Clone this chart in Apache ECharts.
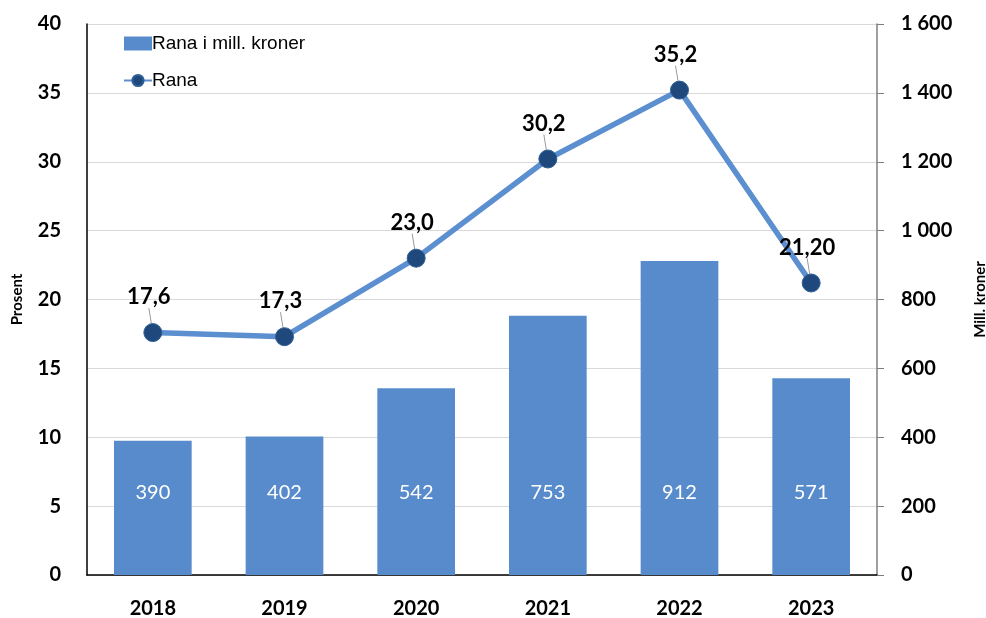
<!DOCTYPE html>
<html>
<head>
    <meta charset="UTF-8">
    <title>Rana</title>
    <style>
        html, body { margin: 0; padding: 0; background: #fff; }
        #main { width: 986px; height: 618px; }
    </style>
</head>
<body>
    <div id="main"></div>
    <script src="https://cdn.jsdelivr.net/npm/echarts@6/dist/echarts.min.js"></script>
    <script type="text/javascript">
        // data
        let years = ['2018', '2019', '2020', '2021', '2022', '2023'];
        let millKroner = [390, 402, 542, 753, 912, 571];
        let prosent = [17.6, 17.3, 23.0, 30.2, 35.2, 21.2];
        let prosentLabels = ['17,6', '17,3', '23,0', '30,2', '35,2', '21,20'];
        let leftTicks = [0, 5, 10, 15, 20, 25, 30, 35, 40];
        let rightTicks = [0, 200, 400, 600, 800, 1000, 1200, 1400, 1600];

        let myChart = echarts.init(document.getElementById('main'));
        let axisFont = { fontFamily: 'Lato', fontWeight: 'bold', fontSize: 20, color: '#000' };

        myChart.setOption({
            animation: false,
            grid: { left: 87, right: 109, top: 24, bottom: 43, outerBoundsMode: 'none', containLabel: false },
            legend: {
                orient: 'vertical',
                left: 118,
                top: 29,
                itemGap: 18,
                itemWidth: 28,
                itemHeight: 14,
                textStyle: { fontFamily: 'Liberation Sans', fontSize: 19, color: '#000', padding: [0, 0, 0, -5] },
                data: [
                    { name: 'Rana i mill. kroner', icon: 'rect' },
                    { name: 'Rana' }
                ]
            },
            xAxis: {
                type: 'category',
                data: years,
                axisLine: { lineStyle: { color: '#000', width: 1.5 } },
                axisTick: { show: false },
                axisLabel: Object.assign({ margin: 24 }, axisFont)
            },
            yAxis: [{
                type: 'value',
                name: 'Prosent',
                nameLocation: 'middle',
                nameRotate: 90,
                nameGap: 62,
                nameTextStyle: { fontFamily: 'Lato', fontWeight: 'bold', fontSize: 15, color: '#000' },
                min: leftTicks[0],
                max: leftTicks[leftTicks.length - 1],
                interval: 5,
                axisLine: { show: true, lineStyle: { color: '#000', width: 1.5 } },
                axisTick: { show: false },
                axisLabel: Object.assign({ margin: 26 }, axisFont),
                splitLine: { lineStyle: { color: '#d9d9d9', width: 1 } }
            }, {
                type: 'value',
                name: 'Mill. kroner',
                nameLocation: 'middle',
                nameRotate: 90,
                nameGap: 96,
                nameTextStyle: { fontFamily: 'Lato', fontWeight: 'bold', fontSize: 15, color: '#000' },
                min: rightTicks[0],
                max: rightTicks[rightTicks.length - 1],
                interval: 200,
                axisLine: { show: true, lineStyle: { color: '#7f7f7f', width: 1.5 } },
                axisTick: { show: true, length: 7, lineStyle: { color: '#7f7f7f' } },
                axisLabel: Object.assign({
                    margin: 24,
                    formatter: function (v) {
                        return String(v).replace(/\B(?=(\d{3})+(?!\d))/g, ' ');
                    }
                }, axisFont),
                splitLine: { show: false }
            }],
            series: [{
                name: 'Rana i mill. kroner',
                type: 'bar',
                yAxisIndex: 1,
                data: millKroner,
                barCategoryGap: '41%',
                itemStyle: { color: '#588bcb' },
                label: {
                    show: true,
                    position: 'insideBottom',
                    distance: 72,
                    color: '#fff',
                    fontFamily: 'Lato',
                    fontSize: 20
                }
            }, {
                name: 'Rana',
                type: 'line',
                yAxisIndex: 0,
                data: prosent,
                symbol: 'circle',
                symbolSize: 18,
                lineStyle: { color: '#5b8fcf', width: 5.5 },
                itemStyle: { color: '#1f497d', borderColor: '#2e5f95', borderWidth: 1 },
                label: {
                    show: true,
                    position: 'top',
                    distance: 0,
                    fontFamily: 'Lato',
                    fontWeight: 'bold',
                    fontSize: 22,
                    color: '#000',
                    formatter: function (p) { return prosentLabels[p.dataIndex]; }
                },
                labelLayout: { dy: -15, dx: -4 },
                labelLine: { show: true, lineStyle: { color: '#999', width: 1 } },
                z: 5
            }]
        });
    </script>
</body>
</html>
